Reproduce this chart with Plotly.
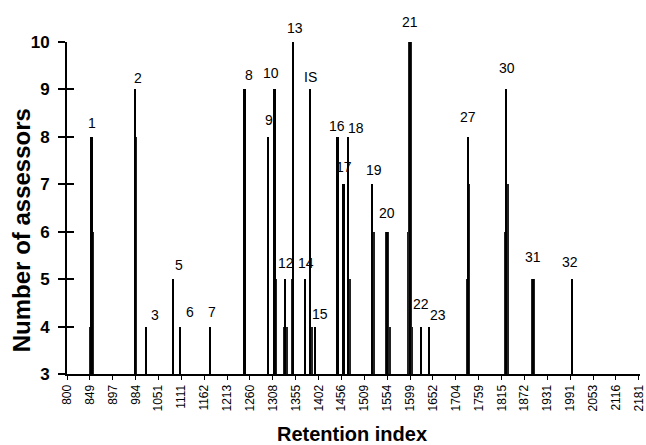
import numpy as np
import plotly.graph_objects as go

# ---- data ----
tick_ri = [800, 849, 897, 984, 1051, 1111, 1162, 1213, 1260, 1308, 1355, 1402, 1456,
           1509, 1554, 1599, 1652, 1704, 1759, 1815, 1872, 1931, 1991, 2053, 2116, 2181]

peak_labels = ["1", "2", "3", "5", "6", "7", "8", "9", "10", "12", "13", "14", "IS", "15",
               "16", "17", "18", "19", "20", "21", "22", "23", "27", "30", "31", "32"]
peak_ri = [853, 984, 1016, 1090, 1108, 1175, 1249, 1298, 1312, 1334, 1350, 1375, 1385, 1395,
           1447, 1461, 1472, 1525, 1554, 1600, 1625, 1644, 1733, 1827, 1894, 1996]
peak_count = [8, 9, 4, 5, 4, 4, 9, 8, 9, 5, 10, 5, 9, 4,
              8, 7, 8, 7, 6, 10, 4, 4, 8, 9, 5, 5]

# unlabelled neighbouring responses (shoulders of the peaks)
shoulder_ri = [849, 855, 856, 986, 1247, 1315, 1332, 1337, 1347, 1388, 1445, 1459, 1463,
               1475, 1528, 1552, 1556, 1559, 1596, 1598, 1602, 1604, 1642, 1731, 1735,
               1824, 1831, 1892, 1896]
shoulder_count = [4, 6, 5, 8, 7, 5, 4, 4, 5, 4, 5, 7, 7,
                  5, 6, 6, 6, 4, 6, 10, 10, 4, 4, 5, 7,
                  6, 7, 5, 5]

# ---- styling: label offsets (px) ----
label_shift = {
    "1": (0, 14), "2": (2, 11), "3": (8, 12), "5": (6, 14), "6": (10, 15), "7": (2, 15),
    "8": (4, 14), "9": (1, 17), "10": (-4, 16), "12": (0, 16), "13": (2, 14), "14": (1, 16),
    "IS": (0, 12), "15": (5, 13), "16": (-1, 11), "17": (0, 17), "18": (8, 9), "19": (1, 14),
    "20": (0, 19), "21": (-1, 20), "22": (0, 23), "23": (8, 12), "27": (0, 20), "30": (1, 21),
    "31": (0, 22), "32": (-2, 17),
}

idx = np.arange(len(tick_ri))


def to_axis(ri):
    return np.interp(ri, tick_ri, idx)


peak_pos = to_axis(peak_ri)
shoulder_pos = to_axis(shoulder_ri)

FONT = "Liberation Sans, Arial"

fig = go.Figure()
fig.add_trace(go.Bar(x=shoulder_pos, y=shoulder_count, width=0.055,
                     marker=dict(color="#222222", line=dict(width=0)),
                     showlegend=False, hoverinfo="skip"))
fig.add_trace(go.Bar(x=peak_pos, y=peak_count, width=0.075,
                     marker=dict(color="black", line=dict(width=0)),
                     customdata=peak_ri, hovertemplate="RI %{customdata}: %{y}<extra></extra>",
                     showlegend=False))
# invisible trace to activate the overlay axis used for inner tick marks
fig.add_trace(go.Scatter(x=[0], y=[3], yaxis="y2", mode="markers",
                         marker=dict(opacity=0), showlegend=False, hoverinfo="skip"))

for lab, xp, c in zip(peak_labels, peak_pos, peak_count):
    dx, dy = label_shift[lab]
    fig.add_annotation(x=xp, y=c, text=lab, showarrow=False, xanchor="center",
                       yanchor="middle", xshift=dx, yshift=dy,
                       font=dict(family=FONT, size=14, color="black"))

fig.add_annotation(xref="paper", yref="paper", x=-0.078, y=0.434, text="<b>Number of assessors</b>",
                   textangle=-90, showarrow=False, xanchor="center", yanchor="middle",
                   font=dict(family=FONT, size=24, color="black"))
fig.add_annotation(xref="paper", yref="paper", x=0.497, y=-0.181, text="<b>Retention index</b>",
                   showarrow=False, xanchor="center", yanchor="middle",
                   font=dict(family=FONT, size=20, color="black"))

fig.update_layout(
    width=646, height=445,
    margin=dict(l=67, r=6, t=42, b=71, autoexpand=False),
    paper_bgcolor="white", plot_bgcolor="white",
    barmode="overlay", bargap=0,
    font=dict(family=FONT, color="black"),
    xaxis=dict(range=[0, 25.05], tickmode="array", tickvals=list(idx),
               ticktext=[str(t) for t in tick_ri], tickangle=-90,
               tickfont=dict(size=12, color="black"), ticklabeloverflow="allow",
               showline=True, linecolor="black", linewidth=2,
               ticks="outside", ticklen=4, tickwidth=1, tickcolor="black",
               showgrid=False, zeroline=False, fixedrange=True, automargin=False),
    yaxis=dict(range=[3, 10], tickmode="array", tickvals=list(range(3, 11)),
               tickfont=dict(size=17, color="black", weight="bold"),
               showline=True, linecolor="black", linewidth=2,
               ticks="outside", ticklen=7, tickwidth=2, tickcolor="black",
               ticklabelstandoff=5,
               showgrid=False, zeroline=False, fixedrange=True, automargin=False),
    yaxis2=dict(range=[3, 10], overlaying="y", side="left", tickmode="array",
                tickvals=list(range(3, 11)), showticklabels=False,
                ticks="inside", ticklen=7, tickwidth=2, tickcolor="black",
                showline=False, showgrid=False, zeroline=False, fixedrange=True),
)

fig.write_html("out.html", config={"displayModeBar": False},
               post_script="document.body.style.margin='0';document.body.style.overflow='hidden';")
